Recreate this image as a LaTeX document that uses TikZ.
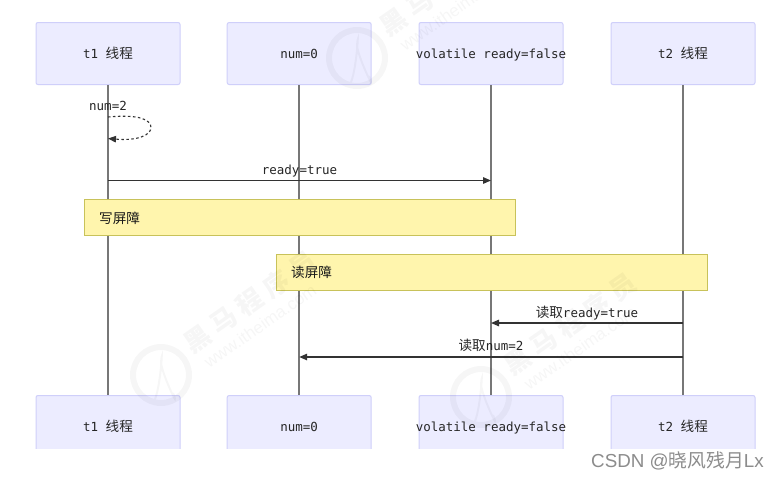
\documentclass[tikz,border=0pt]{standalone}
\usepackage{fontspec}
\setmainfont{DejaVu Sans Mono}
\newfontfamily\cjk{Noto Sans CJK SC}
\newfontfamily\marksans{Liberation Sans}
\usetikzlibrary{arrows.meta}
\definecolor{actorfill}{HTML}{ECECFF}
\definecolor{actorline}{HTML}{CFCFFA}
\definecolor{lifeline}{HTML}{777777}
\definecolor{msgline}{HTML}{333333}
\definecolor{notefill}{HTML}{FFF5AD}
\definecolor{noteline}{HTML}{C8C25A}
\newcommand{\cjklab}[1]{{\cjk\fontsize{13.6}{15}\selectfont #1}}
\newcommand{\wmname}{黑\hspace{6pt}马\hspace{6pt}程\hspace{6pt}序\hspace{6pt}员}
\tikzset{
  actorbox/.style={draw=actorline,fill=actorfill,line width=1pt,rounded corners=2pt,minimum width=144pt,minimum height=62pt,inner sep=0pt,text=black!85,text height=12pt,text depth=2pt,font=\fontsize{12.5}{14}\selectfont},
  lifethread/.style={draw=lifeline,line width=1.5pt},
  msg/.style={draw=msgline,line width=1.3pt,-{Triangle[length=8pt,width=6.5pt]}},
  msgdot/.style={draw=msgline,line width=1.1pt,dash pattern=on 2.5pt off 2.5pt,-{Triangle[length=8pt,width=6.5pt]}},
  msglabel/.style={text=black!85,inner sep=0pt,text height=12pt,text depth=2pt,font=\fontsize{12.5}{14}\selectfont},
  notebox/.style={draw=noteline,fill=notefill,line width=1pt,minimum width=431pt,minimum height=36pt,inner sep=0pt},
  notelabel/.style={inner sep=0pt,anchor=west,text=black!90,font=\cjk\fontsize{13.6}{15}\selectfont},
  wmtext/.style={inner sep=0pt,text=black,opacity=0.035,font=\cjk\bfseries\fontsize{26}{28}\selectfont,rotate=35},
  wmurl/.style={inner sep=0pt,text=black,opacity=0.035,font=\marksans\fontsize{17}{19}\selectfont,rotate=35},
  wmring/.style={draw=black,opacity=0.035,line width=6pt,minimum size=56pt,circle,inner sep=0pt},
  wmfig/.style={draw=black,opacity=0.035,line width=2pt},
  credit/.style={inner sep=0pt,text=black!45,font=\marksans\fontsize{18.8}{22}\selectfont},
}
\begin{document}
\begin{tikzpicture}[x=1pt,y=-1pt]
\useasboundingbox[fill=white] (0,0) rectangle (778,480);
% top actors
\node[actorbox] (t1a) at (108,53.5) {t1 \cjklab{线程}};
\node[actorbox] (numa) at (299.2,53.5) {num=0};
\node[actorbox] (vola) at (491,53.5) {\makebox[0pt]{volatile ready=false}};
\node[actorbox] (t2a) at (683,53.5) {t2 \cjklab{线程}};
% bottom actors, cut off by the image edge at y=448
\begin{scope}
\clip (0,380) rectangle (778,448);
\node[actorbox] (t1b) at (108,426.5) {t1 \cjklab{线程}};
\node[actorbox] (numb) at (299.2,426.5) {num=0};
\node[actorbox] (volb) at (491,426.5) {\makebox[0pt]{volatile ready=false}};
\node[actorbox] (t2b) at (683,426.5) {t2 \cjklab{线程}};
\end{scope}
% lifelines
\draw[lifethread] (t1a) -- (t1b);
\draw[lifethread] (numa) -- (numb);
\draw[lifethread] (vola) -- (volb);
\draw[lifethread] (t2a) -- (t2b);
% coordinates on lifelines
\coordinate (s1) at (108,117);
\coordinate (s2) at (108,138.5);
\coordinate (r1) at (108,180.5);
\coordinate (r2) at (491,180.5);
\coordinate (q1) at (683,323);
\coordinate (q2) at (491,323);
\coordinate (p1) at (683,357);
\coordinate (p2) at (299.2,357);
% self message
\draw[msgdot] (s1) .. controls (140,114) and (151,120) .. (151,127.5) .. controls (151,135) and (138,141) .. (s2);
\node[msglabel] (lbself) at (108,105.5) {num=2};
% messages
\draw[msg] (r1) -- (r2);
\node[msglabel] (lbready) at (299.5,169) {ready=true};
\draw[msg] (q1) -- (q2);
\node[msglabel] (lbq) at (587,312) {\cjklab{读取}ready=true};
\draw[msg] (p1) -- (p2);
\node[msglabel] (lbp) at (491,345.5) {\cjklab{读取}num=2};
% notes
\node[notebox] (n1) at (299.5,217) {};
\node[notelabel] (n1t) at (99,218) {写屏障};
\node[notebox] (n2) at (491.5,272) {};
\node[notelabel] (n2t) at (291,272.5) {读屏障};
% watermark
\begin{scope}
\clip (0,0) rectangle (778,480);
\node[wmring] (w1) at (357,58) {};
\draw[wmfig] (w1.center) ++(-6,24) .. controls +(6,-14) and +(2,-24) .. ++(6,-36) .. controls +(2,14) and +(8,20) .. ++(12,30);
\node[wmtext] (w1t) at (446,-15) {\wmname};
\node[wmurl] (w1u) at (456,9) {www.itheima.com};
\node[wmring] (w2) at (161,375) {};
\draw[wmfig] (w2.center) ++(-6,24) .. controls +(6,-14) and +(2,-24) .. ++(6,-36) .. controls +(2,14) and +(8,20) .. ++(12,30);
\node[wmtext] (w2t) at (250,302) {\wmname};
\node[wmurl] (w2u) at (260,326) {www.itheima.com};
\node[wmring] (w3) at (481,397) {};
\draw[wmfig] (w3.center) ++(-6,24) .. controls +(6,-14) and +(2,-24) .. ++(6,-36) .. controls +(2,14) and +(8,20) .. ++(12,30);
\node[wmtext] (w3t) at (570,324) {\wmname};
\node[wmurl] (w3u) at (580,348) {www.itheima.com};
\end{scope}
% credit
\node[credit] (cr) at (677.5,461) {CSDN @{\cjk 晓风残月}Lx};
\end{tikzpicture}
\end{document}
